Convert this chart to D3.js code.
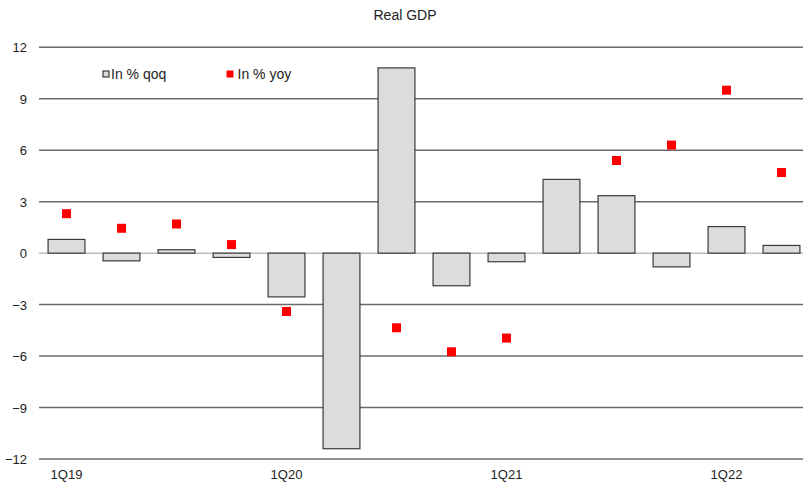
<!DOCTYPE html>
<html>
<head>
<meta charset="utf-8">
<script src="https://cdn.jsdelivr.net/npm/d3@7"></script>
<style>
  html, body { margin: 0; padding: 0; background: #fff; }
  svg { display: block; font-family: "Liberation Sans", Arial, sans-serif; }
</style>
</head>
<body>
<svg id="chart" width="803" height="486"></svg>
<script>
const quarters = ["1Q19","2Q19","3Q19","4Q19","1Q20","2Q20","3Q20","4Q20","1Q21","2Q21","3Q21","4Q21","1Q22","2Q22"];
const qoq = [0.8, -0.45, 0.2, -0.25, -2.55, -11.4, 10.8, -1.9, -0.5, 4.3, 3.35, -0.8, 1.55, 0.45];
const yoy = [2.3, 1.45, 1.7, 0.5, -3.4, null, -4.35, -5.75, -4.95, null, 5.4, 6.3, 9.5, 4.7];
const yTicks = [12, 9, 6, 3, 0, -3, -6, -9, -12];
const xTickLabels = ["1Q19", "1Q20", "1Q21", "1Q22"];
const title = "Real GDP";
const legendLabels = ["In % qoq", "In % yoy"];

const svg = d3.select("#chart");
const W = 803, H = 486;
const plotLeft = 39, plotRight = 809, plotTop = 47.3, plotBottom = 459;

const x = d3.scaleBand().domain(quarters).range([plotLeft, plotRight]).paddingInner(0.33).paddingOuter(0.165);
const y = d3.scaleLinear().domain([-12, 12]).range([plotBottom, plotTop]);

// title
svg.append("text").attr("x", 405).attr("y", 20).attr("text-anchor", "middle")
  .attr("font-size", 14).attr("fill", "#222").text(title);

// gridlines
const grid = svg.append("g");
grid.selectAll("line").data(yTicks.filter(d => d !== 0)).enter().append("line")
  .attr("x1", plotLeft).attr("x2", W).attr("y1", d => y(d)).attr("y2", d => y(d))
  .attr("stroke", "#6b6b6b").attr("stroke-width", 1.5);
svg.append("line").attr("x1", plotLeft).attr("x2", W).attr("y1", y(0)).attr("y2", y(0))
  .attr("stroke", "#bdbdbd").attr("stroke-width", 1.5);

// y axis labels
const yAxis = d3.axisLeft(y).tickValues(yTicks).tickSize(0).tickPadding(0).tickFormat(d3.format("d"));
const gy = svg.append("g").attr("transform", "translate(27,0)").call(yAxis);
gy.select(".domain").remove();
gy.selectAll("text").attr("font-size", 13).attr("fill", "#222").attr("font-family", "Liberation Sans, Arial, sans-serif").attr("dy", "0.36em");

// x axis labels
const xAxis = d3.axisBottom(x).tickValues(xTickLabels).tickSize(0).tickPadding(0);
const gx = svg.append("g").attr("transform", "translate(0,470)").call(xAxis);
gx.select(".domain").remove();
gx.selectAll("text").attr("font-size", 13).attr("fill", "#222").attr("font-family", "Liberation Sans, Arial, sans-serif").attr("dy", "0.71em");

// bars
svg.append("g").selectAll("rect").data(quarters).enter().append("rect")
  .attr("x", d => x(d))
  .attr("width", x.bandwidth())
  .attr("y", (d, i) => y(Math.max(0, qoq[i])))
  .attr("height", (d, i) => Math.abs(y(qoq[i]) - y(0)))
  .attr("fill", "#dcdcdc").attr("stroke", "#3a3a3a").attr("stroke-width", 1.2);

// yoy markers
const sq = 9;
svg.append("g").selectAll("rect").data(quarters.map((q, i) => ({q, v: yoy[i]})).filter(d => d.v !== null))
  .enter().append("rect")
  .attr("x", d => x(d.q) + x.bandwidth() / 2 - sq / 2)
  .attr("y", d => y(d.v) - sq / 2)
  .attr("width", sq).attr("height", sq).attr("fill", "#ff0000");

// legend
const lg = svg.append("g");
lg.append("rect").attr("x", 103).attr("y", 71).attr("width", 6).attr("height", 6)
  .attr("fill", "#dcdcdc").attr("stroke", "#3a3a3a").attr("stroke-width", 1.2);
lg.append("text").attr("x", 111).attr("y", 78.5).attr("font-size", 14).attr("fill", "#222").text(legendLabels[0]);
lg.append("rect").attr("x", 226.5).attr("y", 70.5).attr("width", 7).attr("height", 7).attr("fill", "#ff0000");
lg.append("text").attr("x", 237.5).attr("y", 78.5).attr("font-size", 14).attr("fill", "#222").text(legendLabels[1]);
</script>
</body>
</html>
